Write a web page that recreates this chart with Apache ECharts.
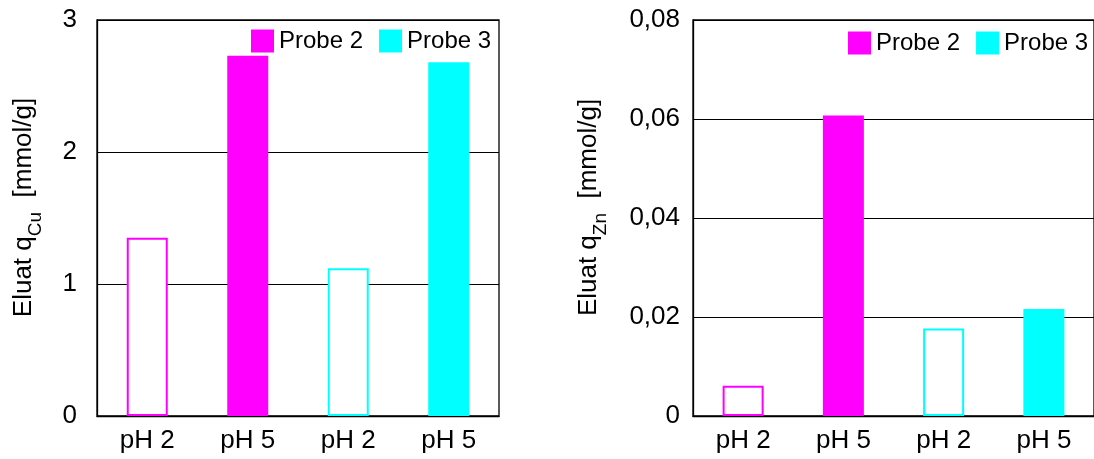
<!DOCTYPE html>
<html>
<head>
<meta charset="utf-8">
<script src="https://cdn.jsdelivr.net/npm/echarts@6/dist/echarts.min.js"></script>
<style>
  html, body { margin: 0; padding: 0; background: #fff; }
  #chart { width: 1094px; height: 459px; }
</style>
</head>
<body>
<div id="chart"></div>
<script>
// Eluate loadings of Cu and Zn for two samples at pH 2 and pH 5
const categories = ['pH 2', 'pH 5', 'pH 2', 'pH 5'];
const seriesNames = ['Probe 2', 'Probe 3'];

// Cu (mmol/g)
const cuProbe2 = [1.35, 2.73, '-', '-'];
const cuProbe3 = ['-', '-', 1.12, 2.68];
const cuTicks = ['0', '1', '2', '3'];

// Zn (mmol/g)
const znProbe2 = [0.0061, 0.0607, '-', '-'];
const znProbe3 = ['-', '-', 0.0177, 0.0216];
const znTicks = ['0', '0,02', '0,04', '0,06', '0,08'];

const MAGENTA = '#ff00ff';
const CYAN = '#00ffff';
const FONT = "'Liberation Sans', Arial, sans-serif";

// pH 2 bars are drawn as outlines, pH 5 bars filled
function styled(values, color) {
  return values.map((v, i) => {
    if (v === '-') return v;
    if (categories[i] === 'pH 2') {
      return { value: v, itemStyle: { color: '#ffffff', borderColor: color, borderWidth: 2 } };
    }
    return { value: v };
  });
}

function barSeries(name, values, color, idx) {
  return {
    name: name,
    type: 'bar',
    xAxisIndex: idx,
    yAxisIndex: idx,
    barWidth: 41,
    barGap: '-100%',
    itemStyle: { color: color },
    data: styled(values, color),
    animation: false
  };
}

const nameRich = {
  a: { fontSize: 26, fontFamily: FONT, color: '#000', lineHeight: 26, verticalAlign: 'top' },
  sub: { fontSize: 19, fontFamily: FONT, color: '#000', lineHeight: 49 }
};

function yAxis(idx, max, interval, ticks, margin, sub, gap) {
  return {
    type: 'value',
    gridIndex: idx,
    min: 0,
    max: max,
    interval: interval,
    axisLine: { show: true, lineStyle: { color: '#000', width: 1.3 } },
    axisTick: { show: false },
    splitLine: { show: true, lineStyle: { color: '#000', width: 1 } },
    axisLabel: {
      margin: margin,
      fontSize: 26,
      fontFamily: FONT,
      color: '#000',
      padding: [6, 0, 0, 0],
      formatter: (v) => ticks[Math.round(v / interval)]
    },
    name: '{a|Eluat q}{sub|' + sub + '}{a|  [mmol/g]}',
    nameLocation: 'middle',
    nameRotate: 90,
    nameGap: gap,
    nameTextStyle: { rich: nameRich, padding: [0, 0, 0, 21] }
  };
}

function xAxis(idx) {
  return {
    type: 'category',
    gridIndex: idx,
    data: categories,
    axisLine: { show: true, lineStyle: { color: '#000', width: 1.3 } },
    axisTick: { show: false },
    axisLabel: { margin: 12, fontSize: 26, fontFamily: FONT, color: '#000' }
  };
}

function legend(left, top) {
  return {
    data: seriesNames,
    left: left,
    top: top,
    padding: 0,
    icon: 'rect',
    itemWidth: 23,
    itemHeight: 23,
    itemGap: 16,
    textStyle: { fontSize: 24, fontFamily: FONT, color: '#000' }
  };
}

const chart = echarts.init(document.getElementById('chart'), null, { renderer: 'canvas' });
chart.setOption({
  animation: false,
  backgroundColor: '#fff',
  grid: [
    { left: 97, top: 20, width: 402, height: 396, show: true, borderColor: '#000', borderWidth: 1.3, backgroundColor: 'transparent' },
    { left: 693, top: 20, width: 402, height: 396, show: true, borderColor: '#000', borderWidth: 1.3, backgroundColor: 'transparent' }
  ],
  legend: [legend(251, 29), legend(848, 31)],
  xAxis: [xAxis(0), xAxis(1)],
  yAxis: [
    yAxis(0, 3, 1, cuTicks, 20, 'Cu', 37),
    yAxis(1, 0.08, 0.02, znTicks, 13, 'Zn', 68)
  ],
  series: [
    barSeries(seriesNames[0], cuProbe2, MAGENTA, 0),
    barSeries(seriesNames[1], cuProbe3, CYAN, 0),
    barSeries(seriesNames[0], znProbe2, MAGENTA, 1),
    barSeries(seriesNames[1], znProbe3, CYAN, 1)
  ]
});
</script>
</body>
</html>
